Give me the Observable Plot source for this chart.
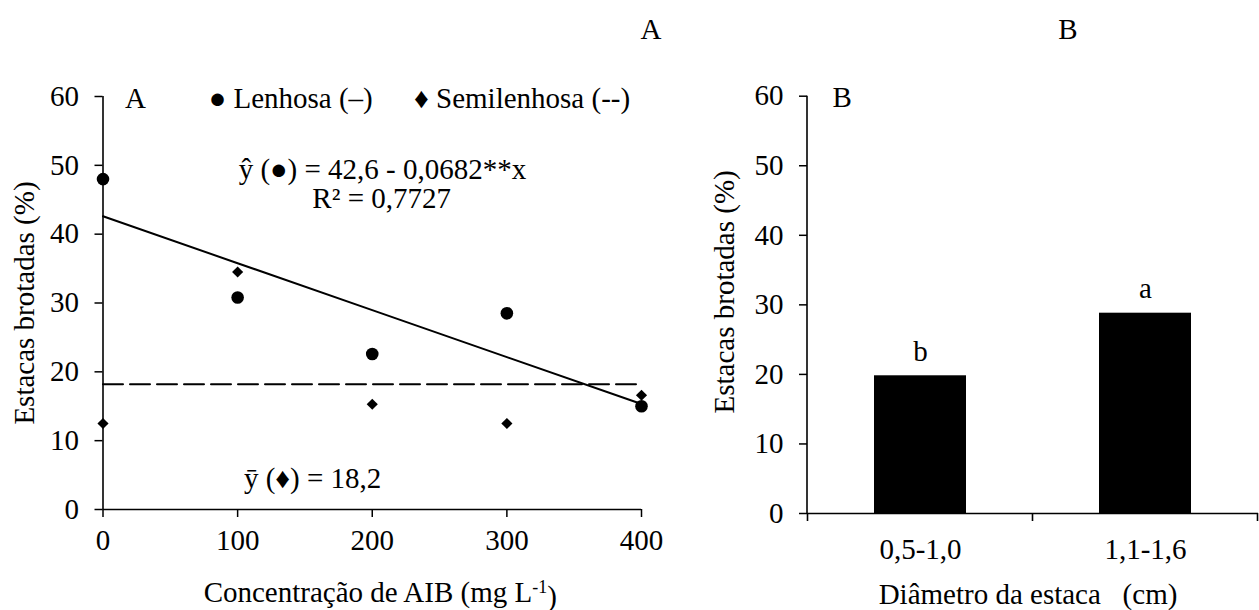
<!DOCTYPE html>
<html>
<head>
<meta charset="utf-8">
<script src="https://cdn.jsdelivr.net/npm/d3@7"></script>
<script src="https://cdn.jsdelivr.net/npm/@observablehq/plot@0.6"></script>
<style>
  html, body { margin: 0; padding: 0; background: #fff; }
  #wrap { position: relative; width: 1259px; height: 610px; overflow: hidden; background: #fff; font-family: "Liberation Serif"; font-size: 29px; }
  #left, #right { position: absolute; top: 0; }
  #left { left: 0; }
  #right { left: 680px; }
  .hdr { position: absolute; top: 12px; width: 40px; margin-left: -20px; text-align: center; line-height: 34px; font-family: "Liberation Serif"; font-size: 29px; color: #000; }
</style>
</head>
<body>
<div id="wrap">
  <div id="left"></div><div id="right"></div>
  <div class="hdr" style="left:651px">A</div>
  <div class="hdr" style="left:1068px">B</div>
</div>
<script>
// ---- Panel A data ----
const concentrations = [0, 100, 200, 300, 400];
const lenhosa = [48.0, 30.8, 22.6, 28.5, 15.0];
const semilenhosa = [12.5, 34.5, 15.3, 12.5, 16.6];
const regIntercept = 42.6;
const regSlope = -0.0682;
const semiMean = 18.2;
const yTicks = [0, 10, 20, 30, 40, 50, 60];
const xTicks = [0, 100, 200, 300, 400];

// ---- Panel B data ----
const diameters = ["0,5-1,0", "1,1-1,6"];
const diameterValues = [19.8, 28.8];
const diameterLetters = ["b", "a"];

// ---- Texts ----
const yLabel = "Estacas brotadas (%)";
const xLabelA = "Concentração de AIB (mg L-1)";
const xLabelB = "Diâmetro da estaca\u00A0\u00A0\u00A0(cm)";
const legendLenhosa = "● Lenhosa (–)";
const legendSemi = "♦ Semilenhosa (--)";
const eqText = "ŷ (●) = 42,6 - 0,0682**x";
const r2Text = "R² = 0,7727";
const meanText = "ȳ (♦) = 18,2";

const FONT = "Liberation Serif";
const FS = 29;

const lenData = concentrations.map((x, i) => ({x, y: lenhosa[i]}));
const semiData = concentrations.map((x, i) => ({x, y: semilenhosa[i]}));
const barData = diameters.map((d, i) => ({cat: d, value: diameterValues[i], letter: diameterLetters[i]}));

const styleObj = {fontFamily: FONT, fontSize: FS + "px", background: "white", overflow: "visible"};

// ---- Panel A ----
const left = Plot.plot({
  width: 680, height: 610,
  marginLeft: 102.5, marginRight: 39, marginTop: 96, marginBottom: 101,
  style: styleObj,
  x: {domain: [0, 400]},
  y: {domain: [0, 60]},
  marks: [
    Plot.axisY({ticks: yTicks, tickSize: 8, tickPadding: 16, label: null, fontSize: FS, strokeWidth: 1.5}),
    Plot.axisX({ticks: xTicks, tickSize: 8, tickPadding: 12, label: null, fontSize: FS, strokeWidth: 1.5}),
    Plot.ruleX([0], {y1: 0, y2: 60, strokeWidth: 1.6}),
    Plot.ruleY([0], {strokeWidth: 1.6}),
    Plot.line(concentrations, {x: d => d, y: d => regIntercept + regSlope * d, stroke: "black", strokeWidth: 2}),
    Plot.line(concentrations, {x: d => d, y: () => semiMean, stroke: "black", strokeWidth: 2, strokeDasharray: "20,7"}),
    Plot.dot(lenData, {x: "x", y: "y", r: 6.3, fill: "black", stroke: "none"}),
    Plot.dot(semiData, {x: "x", y: "y", r: 5, symbol: "diamond2", fill: "black", stroke: "none"}),
    Plot.text([legendLenhosa], {x: 78.5, y: 59.7, textAnchor: "start", lineAnchor: "middle", fontSize: FS}),
    Plot.text([legendSemi], {x: 231, y: 59.7, textAnchor: "start", lineAnchor: "middle", fontSize: FS}),
    Plot.text([eqText], {x: 207.6, y: 49.4, textAnchor: "middle", lineAnchor: "middle", fontSize: FS}),
    Plot.text([r2Text], {x: 207, y: 45.1, textAnchor: "middle", lineAnchor: "middle", fontSize: FS}),
    Plot.text([meanText], {x: 155.7, y: 4.5, textAnchor: "middle", lineAnchor: "middle", fontSize: FS}),
    Plot.text(["A"], {frameAnchor: "top-left", dx: 32.5, dy: 2, textAnchor: "middle", lineAnchor: "middle", fontSize: FS}),
    Plot.text([yLabel], {frameAnchor: "left", rotate: -90, dx: -78, textAnchor: "middle", lineAnchor: "middle", fontSize: FS}),
    Plot.text([xLabelA], {frameAnchor: "bottom", dx: 8, dy: 92, textAnchor: "middle", lineAnchor: "bottom", fontSize: FS})
  ]
});

// superscript for L-1
d3.select(left).selectAll("text").filter(function() { return this.textContent === xLabelA; }).each(function() {
  const t = d3.select(this);
  t.text(null);
  t.append("tspan").text("Concentração de AIB (mg L");
  t.append("tspan").attr("dy", "-0.45em").attr("font-size", "0.62em").text("-1");
  t.append("tspan").attr("dy", "0.45em").text(")");
});

// ---- Panel B ----
const padInner = 0.593;
const bandAxis = (index, scales, values, dims) => {
  const sx = scales.x, sy = scales.y;
  const step = sx.step(), bw = sx.bandwidth();
  const gap = (step - bw) / 2;
  const g = d3.create("svg:g").attr("stroke", "black").attr("stroke-width", 1.6);
  const y0 = sy(0), y60 = sy(60);
  g.append("line").attr("x1", dims.marginLeft).attr("x2", dims.marginLeft).attr("y1", y0).attr("y2", y60);
  const dom = sx.domain();
  const bounds = dom.map(c => sx(c) - gap);
  bounds.push(sx(dom[dom.length - 1]) + bw + gap);
  for (const b of bounds) {
    g.append("line").attr("x1", b).attr("x2", b).attr("y1", y0).attr("y2", y0 + 8);
  }
  return g.node();
};

const right = Plot.plot({
  width: 579, height: 610,
  marginLeft: 127, marginRight: 1, marginTop: 95.7, marginBottom: 97,
  style: styleObj,
  x: {type: "band", domain: diameters, paddingInner: padInner, paddingOuter: padInner / 2, align: 0.5},
  y: {domain: [0, 60]},
  marks: [
    Plot.axisY({ticks: yTicks, tickSize: 8, tickPadding: 16, label: null, fontSize: FS, strokeWidth: 1.5}),
    Plot.axisX({tickSize: 0, tickPadding: 25, label: null, fontSize: FS}),
    Plot.barY(barData, {x: "cat", y: "value", fill: "black"}),
    Plot.ruleY([0], {strokeWidth: 1.6}),
    bandAxis,
    Plot.text(barData, {x: "cat", y: "value", text: "letter", dy: -15, lineAnchor: "bottom", fontSize: FS}),
    Plot.text(["B"], {frameAnchor: "top-left", dx: 34.7, dy: 2, textAnchor: "middle", lineAnchor: "middle", fontSize: FS}),
    Plot.text([yLabel], {frameAnchor: "left", rotate: -90, dx: -83, dy: -13, textAnchor: "middle", lineAnchor: "middle", fontSize: FS}),
    Plot.text([xLabelB], {frameAnchor: "bottom", dx: -5, dy: 90, textAnchor: "middle", lineAnchor: "bottom", fontSize: FS})
  ]
});

for (const svg of [left, right]) {
  d3.select(svg).selectAll("text, tspan").style("font-family", "'Liberation Serif'");
}

document.getElementById("left").appendChild(left);
document.getElementById("right").appendChild(right);
</script>
</body>
</html>
